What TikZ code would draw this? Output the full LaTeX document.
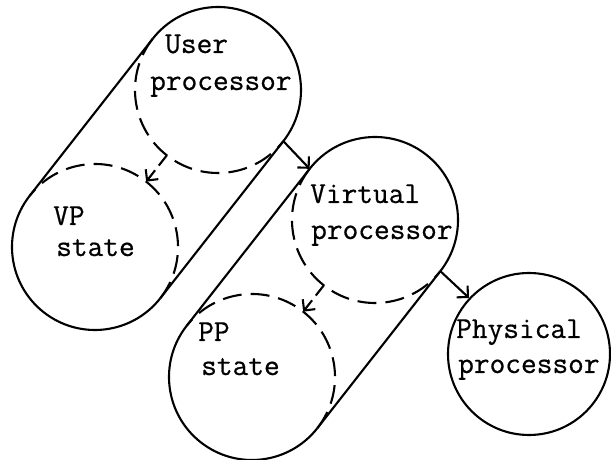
\documentclass[tikz,border=0pt]{standalone}
\usepackage{fontspec}
\newfontfamily\typewriter[FakeBold=0.6]{Latin Modern Mono}
\usetikzlibrary{arrows.meta}
\begin{document}
\begin{tikzpicture}[x=1pt,y=1pt,
  outline/.style={line width=2.1pt},
  hidden/.style={line width=2.1pt, dash pattern=on 19pt off 9pt},
  flow/.style={line width=2.1pt, -{Straight Barb[length=8pt,width=16pt]}},
  hiddenflow/.style={flow, dash pattern=on 13pt off 6pt},
  lbl/.style={anchor=base west, inner sep=0pt, font=\fontsize{30.5}{31}\selectfont\typewriter}]
\useasboundingbox (0,0) rectangle (611,460);
\def\circR{83}
% circle centres: each pair forms a slanted cylinder
\coordinate (UP) at (218,370);
\coordinate (VPS) at (95,213);
\coordinate (VIP) at (375,240);
\coordinate (PPS) at (252,83);
% tangent points and facing points on the circles
\path (UP)  ++(141.93:\circR) coordinate (UPl);
\path (UP)  ++(321.93:\circR) coordinate (UPr);
\path (UP)  ++(231.93:\circR) coordinate (UPb);
\path (VPS) ++(141.93:\circR) coordinate (VPSl);
\path (VPS) ++(321.93:\circR) coordinate (VPSr);
\path (VPS) ++(51.93:\circR)  coordinate (VPSt);
\path (VIP) ++(141.93:\circR) coordinate (VIPl);
\path (VIP) ++(321.93:\circR) coordinate (VIPr);
\path (VIP) ++(231.93:\circR) coordinate (VIPb);
\path (PPS) ++(141.93:\circR) coordinate (PPSl);
\path (PPS) ++(321.93:\circR) coordinate (PPSr);
\path (PPS) ++(51.93:\circR)  coordinate (PPSt);

% user processor / VP state cylinder
\draw[outline] (UPl) arc[start angle=141.93, end angle=-38.07, radius=\circR];
\draw[hidden]  (UPl) arc[start angle=141.93, end angle=321.93, radius=\circR];
\draw[outline] (VPSl) arc[start angle=141.93, end angle=321.93, radius=\circR];
\draw[hidden]  (VPSr) arc[start angle=-38.07, end angle=141.93, radius=\circR];
\draw[outline] (UPl) -- (VPSl);
\draw[outline] (UPr) -- (VPSr);
\draw[hiddenflow] (UPb) -- (VPSt);

% virtual processor / PP state cylinder
\draw[outline] (VIPl) arc[start angle=141.93, end angle=-38.07, radius=\circR];
\draw[hidden]  (VIPl) arc[start angle=141.93, end angle=321.93, radius=\circR];
\draw[outline] (PPSl) arc[start angle=141.93, end angle=321.93, radius=\circR];
\draw[hidden]  (PPSr) arc[start angle=-38.07, end angle=141.93, radius=\circR];
\draw[outline] (VIPl) -- (PPSl);
\draw[outline] (VIPr) -- (PPSr);
\draw[hiddenflow] (VIPb) -- (PPSt);

% physical processor
\node[outline, draw, circle, minimum size=162pt, inner sep=0pt] (PHY) at (529,106) {};

% level-to-level arrows
\draw[flow] (UPr) -- (VIPl);
\draw[flow] (VIPr) -- (PHY);

% labels
\node[lbl] (upA) at (165,407) {User};
\node[lbl] (upB) at (150,370) {processor};
\node[lbl] (vsA) at (53,235) {VP};
\node[lbl] (vsB) at (56,204) {state};
\node[lbl] (viA) at (310,257) {Virtual};
\node[lbl] (viB) at (311,221) {processor};
\node[lbl] (psA) at (198,119) {PP};
\node[lbl] (psB) at (201,85) {state};
\node[lbl] (phA) at (456,122) {Physical};
\node[lbl] (phB) at (458,87) {processor};
\end{tikzpicture}
\end{document}
